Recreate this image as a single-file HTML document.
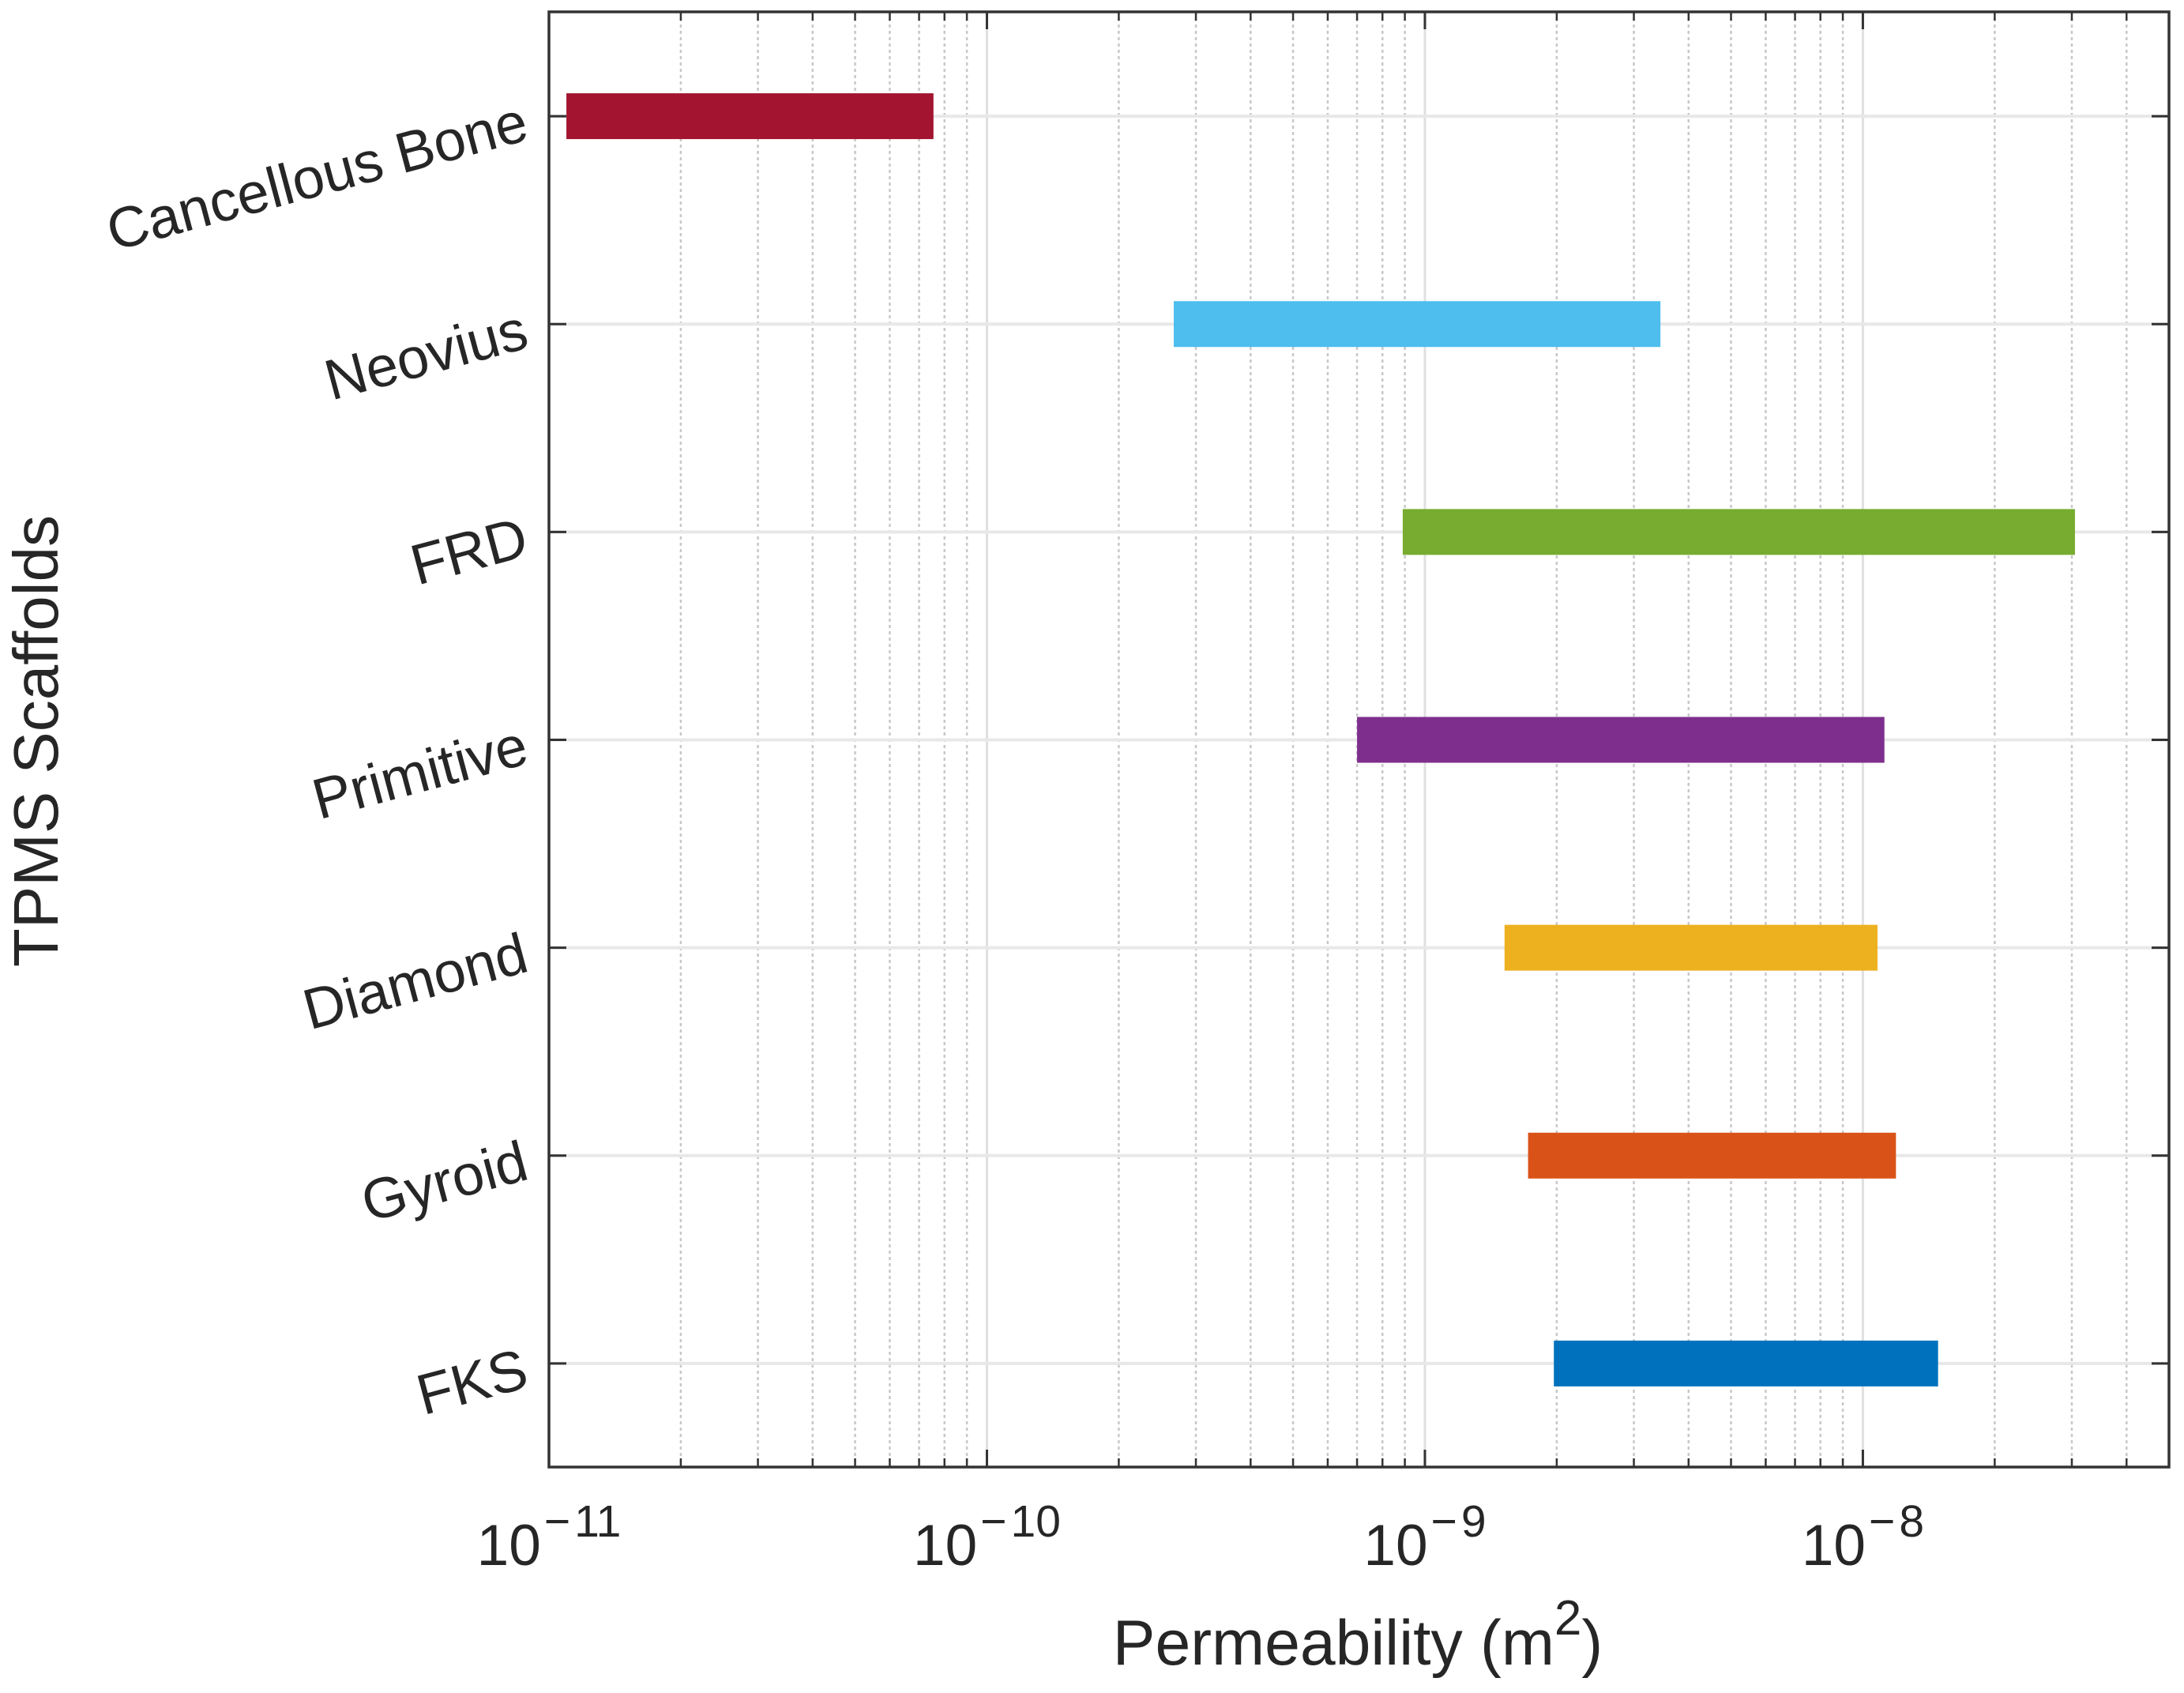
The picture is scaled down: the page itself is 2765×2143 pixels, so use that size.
<!DOCTYPE html>
<html lang="en">
<head>
<meta charset="utf-8">
<title>Permeability range of TPMS scaffolds</title>
<style>
  html, body { margin: 0; padding: 0; background: #fff; }
  svg { display: block; }
  text { font-family: "Liberation Sans", Arial, sans-serif; fill: #262626; }
</style>
</head>
<body>
<svg id="chart" xmlns="http://www.w3.org/2000/svg" width="2765" height="2143" viewBox="0 0 2765 2143">
  <rect x="0" y="0" width="2765" height="2143" fill="#ffffff"/>
  <g id="grid"></g>
  <g id="bars"></g>
  <g id="axes"></g>
  <g id="xlabels"></g>
  <g id="ylabels"></g>
  <text x="1719" y="2107" font-size="80.5" text-anchor="middle">Permeability (m<tspan font-size="62" dy="-38">2</tspan><tspan dy="38">)</tspan></text>
  <text transform="translate(73 938) rotate(-90)" font-size="80" text-anchor="middle">TPMS Scaffolds</text>
</svg>
<script>
const categories = ["Cancellous Bone", "Neovius", "FRD", "Primitive", "Diamond", "Gyroid", "FKS"];
const rangeLow = [1.096e-11, 2.67e-10, 8.9e-10, 7.0e-10, 1.52e-9, 1.72e-9, 1.97e-9];
const rangeHigh = [7.55e-11, 3.45e-9, 3.05e-8, 1.12e-8, 1.08e-8, 1.19e-8, 1.485e-8];
const barColors = ["#A2142F", "#4DBEEE", "#77AC30", "#7E2F8E", "#EDB120", "#D95319", "#0072BD"];
const xTickExponents = [-11, -10, -9, -8];
const minorMultipliers = [2, 3, 4, 5, 6, 7, 8, 9];
const xLimits = [1e-11, 5e-8];

const plot = { left: 695, right: 2746, top: 15, bottom: 1857 };
const barThickness = 58;
const yShift = 0.5;
const NS = "http://www.w3.org/2000/svg";

function xScale(v) {
  const a = Math.log10(xLimits[0]), b = Math.log10(xLimits[1]);
  return plot.left + (Math.log10(v) - a) / (b - a) * (plot.right - plot.left);
}
function yScale(i) {
  const step = (plot.bottom - plot.top) / categories.length;
  return plot.top + yShift + step * (i + 0.5);
}
function make(tag, parent, attrs) {
  const el = document.createElementNS(NS, tag);
  for (const k in attrs) el.setAttribute(k, attrs[k]);
  parent.appendChild(el);
  return el;
}

const grid = document.getElementById("grid");
const bars = document.getElementById("bars");
const axes = document.getElementById("axes");
const xlabels = document.getElementById("xlabels");
const ylabels = document.getElementById("ylabels");
const axisColor = "#333333";

/* vertical grid lines and ticks */
xTickExponents.forEach(function (exp) {
  const major = Math.pow(10, exp);
  const x = xScale(major);
  if (exp > xTickExponents[0]) {
    const g = make("line", grid, { x1: x, x2: x, y1: plot.top, y2: plot.bottom, stroke: "#e0e0e0", "stroke-width": 3 });
    
    
  }
  [plot.bottom, plot.top].forEach(function (edge) {
    const dir = edge === plot.bottom ? -1 : 1;
    const t = make("line", axes, { x1: x, x2: x, y1: edge, y2: edge + dir * 22, stroke: axisColor, "stroke-width": 3 });
    
    
  });
  const label = make("text", xlabels, { x: x, y: 1981, "text-anchor": "middle", "font-size": 73 });
  
  
  const base = make("tspan", label, {});
  base.textContent = "10";
  const minus = make("tspan", label, { "font-size": 57, dy: -36, dx: 4 });
  minus.textContent = "\u2212";
  const digits = make("tspan", label, { "font-size": 57, dx: 5 });
  digits.textContent = String(Math.abs(exp));
});

for (let exp = xTickExponents[0]; exp <= xTickExponents[xTickExponents.length - 1]; exp++) {
  minorMultipliers.forEach(function (m) {
    const v = m * Math.pow(10, exp);
    if (v > xLimits[1]) return;
    const x = xScale(v);
    const g = make("line", grid, { x1: x, x2: x, y1: plot.top, y2: plot.bottom, stroke: "#c8c8c8", "stroke-width": 2.5, "stroke-dasharray": "4 4" });
    
    
    [plot.bottom, plot.top].forEach(function (edge) {
      const dir = edge === plot.bottom ? -1 : 1;
      const t = make("line", axes, { x1: x, x2: x, y1: edge, y2: edge + dir * 11, stroke: axisColor, "stroke-width": 2.5 });
      
      
    });
  });
}

/* categories: grid line, bar, ticks, label */
categories.forEach(function (name, i) {
  const y = yScale(i);
  const g = make("line", grid, { x1: plot.left, x2: plot.right, y1: y, y2: y, stroke: "#e8e8e8", "stroke-width": 4 });
  
  

  const x0 = xScale(rangeLow[i]);
  const x1 = xScale(rangeHigh[i]);
  const bar = make("rect", bars, { x: x0, y: y - barThickness / 2, width: x1 - x0, height: barThickness, fill: barColors[i] });
  
  

  [plot.left, plot.right].forEach(function (edge) {
    const dir = edge === plot.left ? 1 : -1;
    const t = make("line", axes, { x1: edge, x2: edge + dir * 22, y1: y, y2: y, stroke: axisColor, "stroke-width": 3 });
    
    
  });

  const ax = 672, ay = y + 29;
  const label = make("text", ylabels, { transform: "translate(" + ax + " " + ay + ") rotate(-15)", "text-anchor": "end", "font-size": 72.4 });
  label.textContent = name;
  
  
});

const frame = make("rect", axes, { x: plot.left, y: plot.top, width: plot.right - plot.left, height: plot.bottom - plot.top, fill: "none", stroke: axisColor, "stroke-width": 3.5 });


</script>
</body>
</html>
